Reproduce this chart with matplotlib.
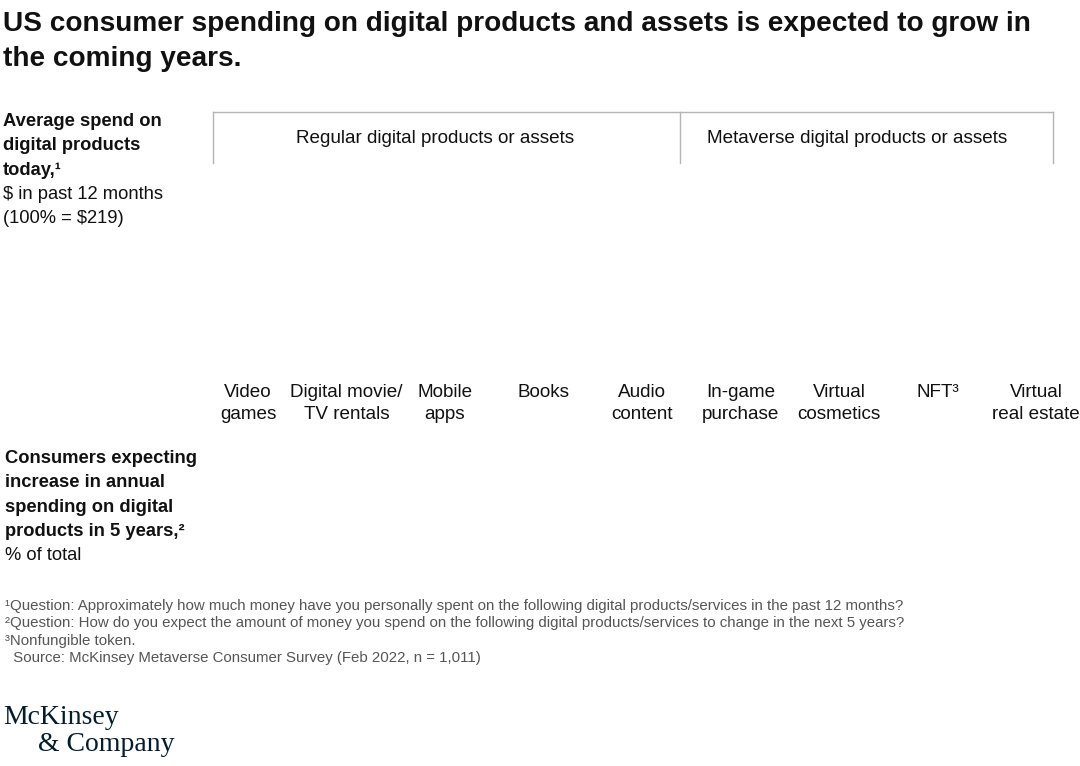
import matplotlib
matplotlib.use("Agg")
import matplotlib.pyplot as plt
from matplotlib.transforms import blended_transform_factory

# ---- data ----
categories = ["Video\ngames", "Digital movie/\nTV rentals", "Mobile\napps", "Books",
              "Audio\ncontent", "In-game\npurchase", "Virtual\ncosmetics", "NFT³",
              "Virtual\nreal estate"]
groups = ["Regular digital products or assets", "Metaverse digital products or assets"]
group_members = [5, 4]  # number of categories in each group

title = "US consumer spending on digital products and assets is expected to grow in\nthe coming years."
top_label_bold = ["Average spend on", "digital products", "today,¹"]
top_label_reg = ["$ in past 12 months", "(100% = $219)"]
bottom_label_bold = ["Consumers expecting", "increase in annual", "spending on digital", "products in 5 years,²"]
bottom_label_reg = ["% of total"]
footnotes = [
    "¹Question: Approximately how much money have you personally spent on the following digital products/services in the past 12 months?",
    "²Question: How do you expect the amount of money you spend on the following digital products/services to change in the next 5 years?",
    "³Nonfungible token.",
    "  Source: McKinsey Metaverse Consumer Survey (Feb 2022, n = 1,011)",
]

W, H = 1080, 766
plt.rcParams['font.family'] = ['Liberation Sans', 'DejaVu Sans']
fig = plt.figure(figsize=(W / 100, H / 100), dpi=100)
fig.patch.set_facecolor("white")

def px(x, y):
    return x / W, 1 - y / H

# title
fig.text(*px(3, 11), title, fontsize=20.2, fontweight='bold', va='top', ha='left',
         linespacing=1.45, color='#111111')

# left labels (top)
y = 113
for t in top_label_bold:
    fig.text(*px(3, y), t, fontsize=13.2, fontweight='bold', va='top', ha='left', color='#111111')
    y += 24.3
for t in top_label_reg:
    fig.text(*px(3, y), t, fontsize=13.2, va='top', ha='left', color='#111111')
    y += 24.3

# left labels (bottom)
y = 450
for t in bottom_label_bold:
    fig.text(*px(5, y), t, fontsize=13.2, fontweight='bold', va='top', ha='left', color='#111111')
    y += 24.3
for t in bottom_label_reg:
    fig.text(*px(5, y), t, fontsize=13.2, va='top', ha='left', color='#111111')
    y += 24.3

# category axis
x0, x1 = 213, 1053
c0, step = 248, 98.5
ax = fig.add_axes([x0 / W, 1 - 163 / H, (x1 - x0) / W, (163 - 112) / H])
ax.set_xlim((x0 - c0) / step, (x1 - c0) / step)
ax.set_ylim(0, 1)
ax.axis('off')

lo, hi = ax.get_xlim()
div = (680 - c0) / step
bracket_col = '#b5b5b5'
ax.plot([lo, hi], [1, 1], color=bracket_col, lw=1, clip_on=False)
for xv in (lo, div, hi):
    ax.plot([xv, xv], [0, 1], color=bracket_col, lw=1, clip_on=False)

# group label centres (slightly left of bracket midpoints, as in the reference)
group_centres = [(435 - c0) / step, (857 - c0) / step]
for g, gc in zip(groups, group_centres):
    ax.text(gc, 0.49, g, fontsize=13.6, ha='center', va='center', color='#111111')

tr = blended_transform_factory(ax.transData, fig.transFigure)
for i, c in enumerate(categories):
    ax.text(i, 1 - 384 / H, c, transform=tr, fontsize=13.6, ha='center', va='top',
            linespacing=1.38, color='#111111', clip_on=False)

# footnotes
y = 599
for f in footnotes:
    fig.text(*px(5, y), f, fontsize=10.8, va='top', ha='left', color='#555555')
    y += 17.4

# logo
fig.text(*px(3, 705), "McKinsey", family='Liberation Serif', fontsize=20, va='top',
         ha='left', color='#051c2c')
fig.text(*px(38, 732), "& Company", family='Liberation Serif', fontsize=20, va='top',
         ha='left', color='#051c2c')

fig.savefig("out.png", dpi=100, facecolor='white')
